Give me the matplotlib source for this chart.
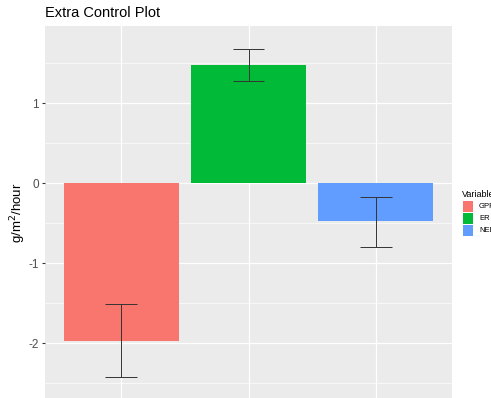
import matplotlib
matplotlib.use("Agg")
import matplotlib.pyplot as plt
from matplotlib.patches import Rectangle

plt.rcParams["font.family"] = ["Liberation Sans", "DejaVu Sans"]

variables = ["GPP", "ER", "NEE"]
means = [-1.97, 1.475, -0.48]
err_low = [-2.43, 1.27, -0.80]
err_high = [-1.51, 1.68, -0.175]
colors = ["#F8766D", "#00BA38", "#619CFF"]

W, H = 491, 398
fig = plt.figure(figsize=(W / 100, H / 100), dpi=100)
fig.patch.set_facecolor("white")

# Panel in pixel coordinates
left, right, top = 45, 452, 26
ax = fig.add_axes([left / W, 0, (right - left) / W, 1 - top / H])
ax.set_facecolor("#EBEBEB")

x = [1, 2, 3]
ax.bar(x, means, width=0.9, color=colors, zorder=3)
for xi, lo, hi in zip(x, err_low, err_high):
    ax.vlines(xi, lo, hi, color="#333333", lw=0.7, zorder=4)
    ax.hlines([lo, hi], xi - 0.125, xi + 0.125, color="#333333", lw=0.7, zorder=4)

ax.set_xlim(0.4, 3.6)
ax.set_ylim(-2.6875, 1.9625)
ax.set_yticks([1, 0, -1, -2])
ax.set_yticklabels(["1", "0", "-1", "-2"])
ax.set_yticks([1.5, 0.5, -0.5, -1.5, -2.5], minor=True)
ax.set_xticks(x)
ax.set_xticklabels([])
ax.tick_params(axis="x", length=0)
ax.tick_params(axis="y", which="major", length=2.5, color="#333333", labelsize=8.5,
               labelcolor="#4D4D4D", pad=2)
ax.tick_params(axis="y", which="minor", length=0)
ax.grid(True, which="major", color="white", lw=0.9, zorder=0)
ax.grid(True, which="minor", axis="y", color="white", lw=0.45, zorder=0)
for s in ax.spines.values():
    s.set_visible(False)

ax.set_ylabel(r"g/m$^2$/hour", fontsize=9.5)
ax.yaxis.set_label_coords(-(left - 28) / (right - left), 1 - (213 - 26) / 372)

fig.text(left / W, 1 - 17 / H, "Extra Control Plot", fontsize=10.5, ha="left",
         va="baseline")

# Legend drawn in figure space so the right edge clips it
fig.text(462 / W, 1 - 195 / H, "Variable", fontsize=6.5, ha="left", va="center")
key_tops = [201, 213, 225]
for kt, c, lab in zip(key_tops, colors, variables):
    fig.patches.append(Rectangle((463 / W, 1 - (kt + 11) / H), 10 / W, 11 / H,
                                 transform=fig.transFigure, facecolor=c,
                                 edgecolor="none"))
    fig.text(479 / W, 1 - (kt + 5.5) / H, lab, fontsize=5.5, ha="left",
             va="center")

fig.savefig("out.png", dpi=100)
